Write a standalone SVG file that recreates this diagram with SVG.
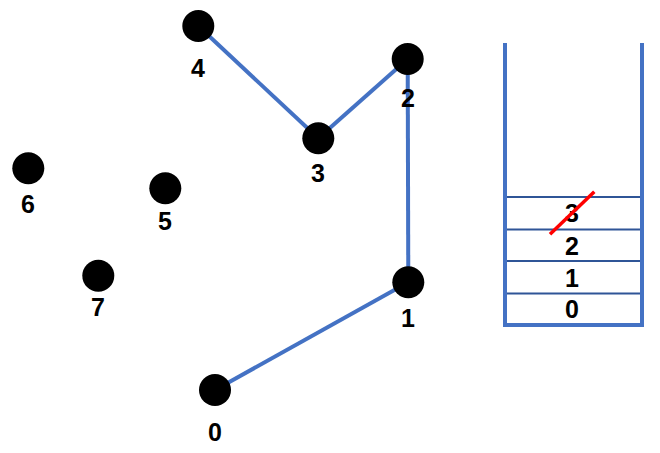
<svg xmlns="http://www.w3.org/2000/svg" width="660" height="453" viewBox="0 0 660 453">
<style>
.edge{stroke:#4472C4;stroke-width:4;fill:none}
.node{fill:#000}
.lbl{font-family:"Liberation Sans",Arial,sans-serif;font-size:25px;font-weight:bold;fill:#000;text-anchor:middle}
.wall{stroke:#4472C4;stroke-width:4;fill:none}
.slot{stroke:#2F5597;stroke-width:2}
</style>
<rect width="660" height="453" fill="#fff"/>
<g id="connectors">
<line class="edge" x1="198.3" y1="26" x2="318.3" y2="138.3"/>
<line class="edge" x1="318.3" y1="138.3" x2="407.7" y2="59"/>
<line class="edge" x1="407.7" y1="59" x2="408.3" y2="282.3"/>
<line class="edge" x1="408.3" y1="282.3" x2="215" y2="390"/>
</g>
<g id="node0"><circle class="node" cx="215" cy="390" r="16"/><text class="lbl" x="215" y="441">0</text></g>
<g id="node1"><circle class="node" cx="408.3" cy="282.3" r="16"/><text class="lbl" x="408" y="327">1</text></g>
<g id="node2"><circle class="node" cx="407.7" cy="59" r="16"/><text class="lbl" x="408" y="107">2</text></g>
<g id="node3"><circle class="node" cx="318.3" cy="138.3" r="16"/><text class="lbl" x="318" y="182">3</text></g>
<g id="node4"><circle class="node" cx="198.3" cy="26" r="16"/><text class="lbl" x="198" y="77">4</text></g>
<g id="node5"><circle class="node" cx="165.3" cy="188.3" r="16"/><text class="lbl" x="165" y="230">5</text></g>
<g id="node6"><circle class="node" cx="28.3" cy="168.3" r="16"/><text class="lbl" x="28" y="213">6</text></g>
<g id="node7"><circle class="node" cx="98.3" cy="275.7" r="16"/><text class="lbl" x="98" y="316">7</text></g>
<g id="stack">
<line class="slot" x1="505" y1="197" x2="642" y2="197"/>
<line class="slot" x1="505" y1="229.5" x2="642" y2="229.5"/>
<line class="slot" x1="505" y1="261" x2="642" y2="261"/>
<line class="slot" x1="505" y1="293.5" x2="642" y2="293.5"/>
<path class="wall" d="M505 43 V325 H642 V43"/>
<text class="lbl" x="572" y="222">3</text>
<text class="lbl" x="572" y="255">2</text>
<text class="lbl" x="572" y="287">1</text>
<text class="lbl" x="572" y="318">0</text>
<line x1="550" y1="234.3" x2="594.3" y2="191.7" stroke="#FF0000" stroke-width="3.5"/>
</g>
</svg>
